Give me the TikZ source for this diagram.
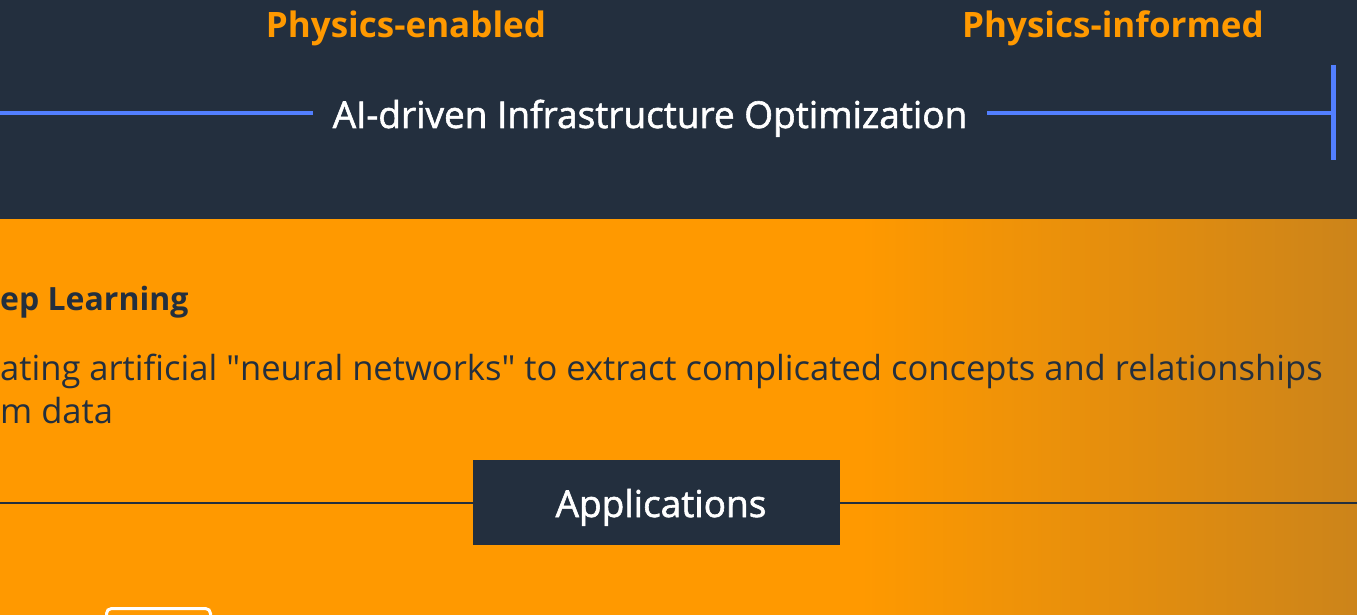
\documentclass[tikz,border=0pt]{standalone}
\usepackage{fontspec}
\setmainfont{Open Sans}
\newfontfamily\medfont{Open Sans}[FakeBold=1.6]
\definecolor{navy}{HTML}{232F3E}
\definecolor{aorange}{HTML}{FF9900}
\definecolor{dorange}{HTML}{CC841A}
\definecolor{ablue}{HTML}{527FFF}
\tikzset{
  toplabel/.style={text=aorange, font=\fontsize{35}{40}\selectfont\bfseries, inner sep=0pt, anchor=base},
  bandtext/.style={text=white, font=\medfont\fontsize{37}{42}\selectfont, inner sep=0pt, anchor=base},
  bodytext/.style={text=navy, font=\fontsize{34.55}{40}\selectfont, inner sep=0pt, anchor=base west},
  bluerule/.style={draw=ablue, line width=4.5pt},
}
\begin{document}
\begin{tikzpicture}[x=1pt,y=-1pt]
\useasboundingbox (0,0) rectangle (1357,615);
\clip (0,0) rectangle (1357,615);
% backgrounds
\fill[aorange] (0,219) rectangle (1357,615);
\shade[left color=aorange, right color=dorange] (860,219) rectangle (1357,615);
\fill[navy] (0,0) rectangle (1357,219);
% top labels
\node[toplabel] (pe) at (406,38) {Physics-enabled};
\node[toplabel] (pi) at (1113,38) {Physics-informed};
\node[bandtext] (ai) at (650,128) {AI-driven Infrastructure Optimization};
\coordinate (lstart) at (0,113);
\coordinate (rend) at (1333,113);
\coordinate (bartop) at (1333,65);
\coordinate (barbot) at (1333,160);
\draw[bluerule] (lstart) -- (313,113);
\draw[bluerule] (987,113) -- (rend);
\draw[draw=ablue, line width=5pt] (bartop) -- (barbot);
% body
\node[bodytext, font=\fontsize{32}{38}\selectfont\bfseries] (dl) at (0,310) {ep Learning};
\node[bodytext] (d1) at (0,380) {ating artificial \textquotedbl neural networks\textquotedbl{} to extract complicated concepts and relationships};
\node[bodytext] (d2) at (0,423) {m data};
% applications
\coordinate (hl) at (0,503);
\coordinate (hr) at (1357,503);
\draw[navy, line width=2pt] (hl) -- (hr);
\fill[navy] (473,460) rectangle (840,545);
\node[bandtext] (app) at (661,517) {Applications};
% bottom white box
\draw[white, line width=3pt, rounded corners=5pt] (106.5,640) -- (106.5,608.5) -- (210.5,608.5) -- (210.5,640);
\end{tikzpicture}
\end{document}
